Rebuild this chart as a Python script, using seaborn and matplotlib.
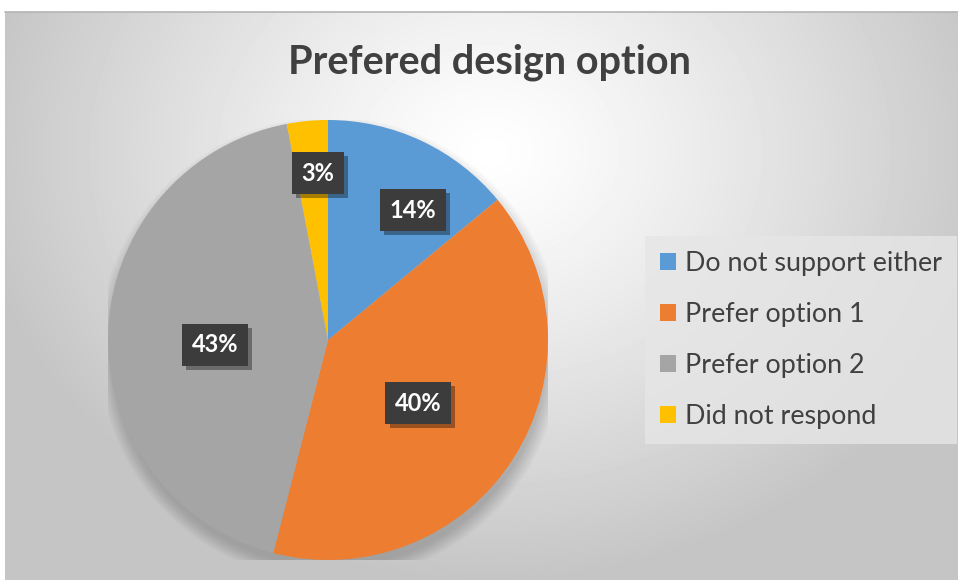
import numpy as np
import matplotlib
matplotlib.use('Agg')
import matplotlib.pyplot as plt
import matplotlib.patheffects as pe
from matplotlib.patches import Circle, Patch
import seaborn as sns

# chart data
categories = ['Do not support either', 'Prefer option 1', 'Prefer option 2', 'Did not respond']
shares = [14, 40, 43, 3]
colors = ['#5B9BD5', '#ED7D31', '#A5A5A5', '#FFC000']
title = 'Prefered design option'

sns.set_theme(style='white')
plt.rcParams['font.family'] = ['Lato', 'DejaVu Sans']
palette = sns.color_palette(colors)

W, H = 958, 580
fig = plt.figure(figsize=(W / 100, H / 100), dpi=100)
fig.patch.set_facecolor('white')

# radial grey background like the Excel chart area
bg = fig.add_axes([5 / W, 0, 1 - 5 / W, 1 - 12 / H])
yy, xx = np.mgrid[0:568, 0:953]
d = np.hypot((xx - 485) / 520, (yy - 140) / 430)
shade = 1 - 0.23 * np.clip(d, 0, 1) ** 1.2
bg.imshow(shade, cmap='gray', vmin=0, vmax=1, aspect='auto', interpolation='bilinear')
bg.set_axis_off()
fig.add_artist(plt.Line2D([5 / W, 1], [1 - 12 / H, 1 - 12 / H], color='#b4b4b4', lw=1.2))

fig.text(490 / W, 1 - 62 / H, title, ha='center', va='center', fontsize=28.5,
         fontweight='bold', color='#404040')

# pie
ax = fig.add_axes([108 / W, 1 - 560 / H, 440 / W, 440 / H])
# soft drop shadow, mostly below the pie
for i in range(14):
    ax.add_patch(Circle((0.01, -0.04), 0.99 + 0.005 * i, color='black', alpha=0.013,
                        lw=0, zorder=0))
wedges, _ = ax.pie(shares, colors=palette, startangle=90, counterclock=False, radius=1,
                   wedgeprops=dict(linewidth=0), frame=True)
ax.set_xlim(-1, 1)
ax.set_ylim(-1, 1)
ax.set_axis_off()

# data-label placement (radius fraction, angle nudge in degrees), Excel "best fit"-like
label_dist = [0.705, 0.5, 0.514, 0.76]
label_nudge = [-8, -2.6, 4.3, -2]
for w, val, r, nudge in zip(wedges, shares, label_dist, label_nudge):
    ang = np.deg2rad((w.theta1 + w.theta2) / 2 + nudge)
    t = ax.text(r * np.cos(ang), r * np.sin(ang), f'{val}%', ha='center', va='center',
                fontsize=17, fontweight='bold', color='white',
                bbox=dict(boxstyle='square,pad=0.4', fc='#3c3c3c', ec='none'))
    t.get_bbox_patch().set_path_effects([
        pe.SimplePatchShadow(offset=(3, -3), shadow_rgbFace='black', alpha=0.35),
        pe.Normal()])

handles = [Patch(facecolor=c, edgecolor='none') for c in palette]
leg = fig.legend(handles, categories, loc='upper left',
                 bbox_to_anchor=(645 / W, 1 - 236 / H), borderaxespad=0,
                 fontsize=19.4, handlelength=0.6, handleheight=0.6, handletextpad=0.35,
                 labelspacing=0.97, borderpad=0.55, frameon=True, fancybox=False)
leg.get_frame().set_facecolor('#e6e6e6')
leg.get_frame().set_edgecolor('none')
for txt in leg.get_texts():
    txt.set_color('#404040')

fig.savefig('out.png', dpi=100)
